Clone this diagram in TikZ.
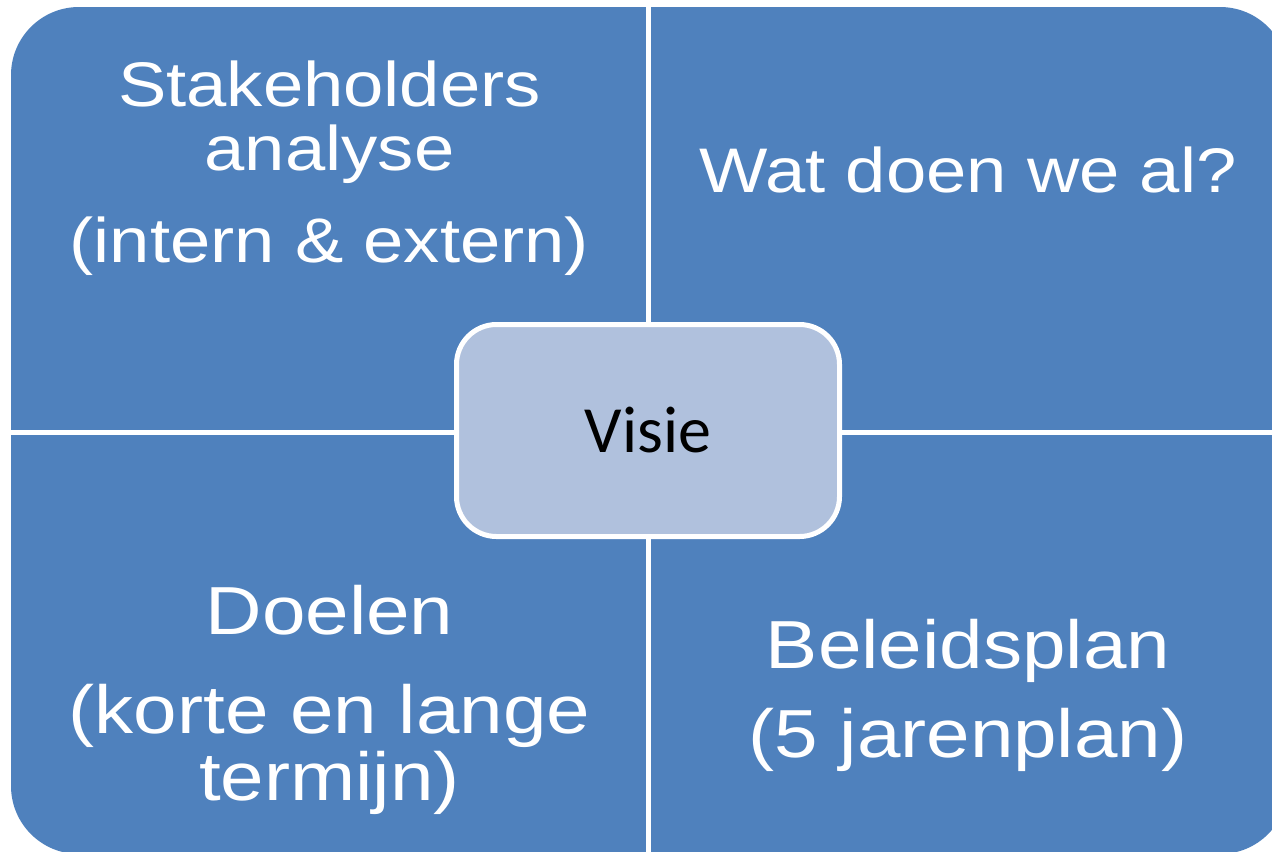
\documentclass[tikz,border=0pt]{standalone}
\usepackage{fontspec}
\setmainfont{Liberation Sans}[FakeStretch=1.15]
\newfontfamily\visiefont{Carlito}
\definecolor{quadblue}{RGB}{79,129,189}
\definecolor{visiefill}{RGB}{176,193,221}

\begin{document}
\begin{tikzpicture}[x=0.5pt,y=-0.5pt,
	quad/.style={text=white,align=center,inner sep=0pt,anchor=base},
	sep/.style={white,line width=2.5pt},
	visie/.style={draw=white,line width=2.5pt,fill=visiefill,rounded corners=20pt,
		minimum width=191.5pt,minimum height=106pt,font=\visiefont\fontsize{33}{36}\selectfont}]
	\useasboundingbox (0,0) rectangle (1272,851);
	\clip (0,0) rectangle (1272,851);
	\fill[quadblue,rounded corners=34pt] (11,7) rectangle (1288,854);
	\draw[sep] (648,0) -- (648,860);
	\draw[sep] (0,432) -- (1290,432);
	\node[visie] (visie) at (648,430.5) {Visie};
	% vier kwadranten (basislijn van de laatste regel)
	\node[quad,font=\fontsize{31.5}{32}\selectfont] (stake) at (329.5,262)
		{Stakeholders\\analyse\\[14pt](intern \& extern)};
	\node[quad,font=\fontsize{31.5}{32}\selectfont] (watdoen) at (968,192) {Wat doen we al?};
	\node[quad,font=\fontsize{34}{33.5}\selectfont] (doelen) at (329.5,800)
		{Doelen\\[16pt](korte en lange\\termijn)};
	\node[quad,font=\fontsize{34}{33.5}\selectfont] (beleid) at (968,757)
		{Beleidsplan\\[11pt](5 jarenplan)};
\end{tikzpicture}
\end{document}
